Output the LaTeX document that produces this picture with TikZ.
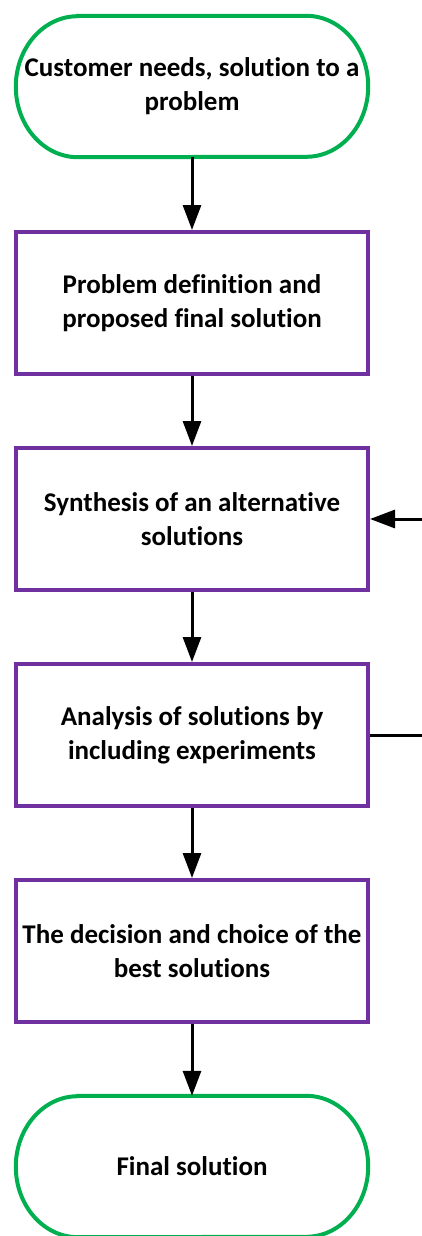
\documentclass[tikz,border=0pt]{standalone}
\usepackage{fontspec}
\setmainfont[Ligatures=NoCommon]{Carlito}
\usetikzlibrary{arrows.meta,calc}
\definecolor{termgreen}{HTML}{00B050}
\definecolor{boxpurple}{HTML}{7030A0}
\tikzset{
  lbl/.style={font=\bfseries\fontsize{27pt}{34pt}\selectfont, align=center, text=black},
  termnode/.style={lbl, draw=none, minimum width=352pt, minimum height=141pt, inner sep=0pt},
  stepbox/.style={lbl, draw=boxpurple, line width=4pt, minimum width=352pt, minimum height=142pt, inner sep=0pt},
  termline/.style={draw=termgreen, line width=4pt},
  conn/.style={line width=3pt, -{Triangle[length=25pt,width=18pt]}},
  plain/.style={line width=3pt}
}
\newcommand{\termshape}[1]{%
  \path[termline] ($(#1.north west)+(62pt,0)$) -- ($(#1.north east)+(-62pt,0)$)
    arc[start angle=90,end angle=-90,x radius=62pt,y radius=70.5pt]
    -- ($(#1.south west)+(62pt,0)$)
    arc[start angle=270,end angle=90,x radius=62pt,y radius=70.5pt] -- cycle;}
\begin{document}
\begin{tikzpicture}
\useasboundingbox (0,0) rectangle (422pt,-1236pt);
\node[termnode] (t1) at (192pt,-86.5pt) {Customer needs, solution to a\\problem};
\termshape{t1}
\node[stepbox] (b1) at (192pt,-303pt) {Problem definition and\\proposed final solution};
\node[stepbox] (b2) at (192pt,-519pt) {Synthesis of an alternative\\solutions};
\node[stepbox] (b3) at (192pt,-735pt) {Analysis of solutions by\\including experiments};
\node[stepbox] (b4) at (192pt,-951pt) {The decision and choice of the\\best solutions};
\node[termnode] (t2) at (192pt,-1166.5pt) {Final solution};
\termshape{t2}
\coordinate (fbin) at (422pt,-519pt);
\coordinate (fbout) at (422pt,-735pt);
\draw[conn] (t1.south) -- (b1.north);
\draw[conn] (b1.south) -- (b2.north);
\draw[conn] (b2.south) -- (b3.north);
\draw[conn] (b3.south) -- (b4.north);
\draw[conn] (b4.south) -- (t2.north);
\draw[plain] (b3.east) -- (fbout);
\draw[conn] (fbin) -- (b2.east);
\end{tikzpicture}
\end{document}
